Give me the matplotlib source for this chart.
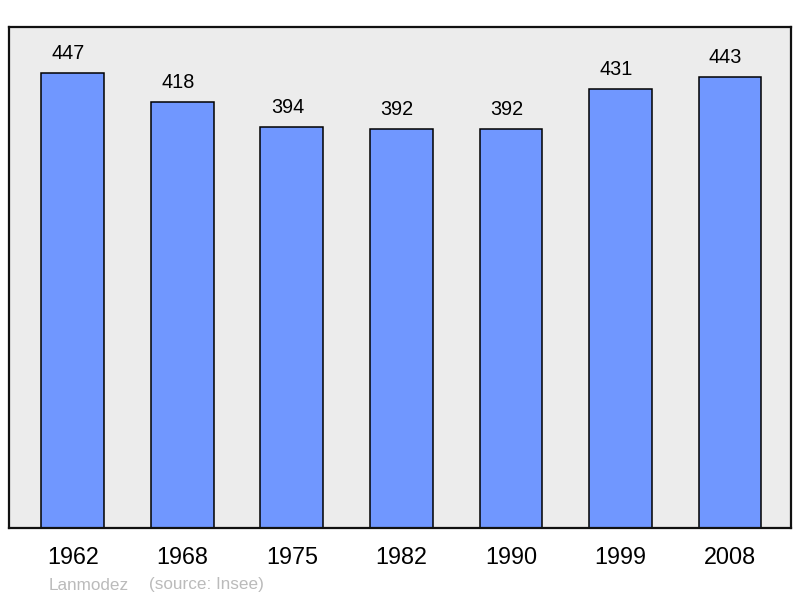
import matplotlib
matplotlib.use("Agg")
import matplotlib.pyplot as plt
from matplotlib.transforms import offset_copy

years = ["1962", "1968", "1975", "1982", "1990", "1999", "2008"]
population = [447, 418, 394, 392, 392, 431, 443]

plt.rcParams['font.family'] = ['Liberation Sans', 'DejaVu Sans']

fig = plt.figure(figsize=(8.0, 5.98), dpi=100)
ax = fig.add_axes([9/800, 1-528/598, 782/800, 501/598])
ax.set_facecolor('#ececec')
x = list(range(len(years)))
ax.bar(x, population, width=0.575, color='#7097ff', edgecolor='black', linewidth=1.1, zorder=2)
trans = offset_copy(ax.transData, fig=fig, x=-4.5, y=10, units='dots')
for xi, v in zip(x, population):
    ax.text(xi, v, str(v), ha='center', va='bottom', fontsize=14.3, color='black', transform=trans)
ax.set_xlim(-0.584, 6.557)
ax.set_ylim(0, 492)
ax.set_xticks(x)
ax.set_xticklabels(years, fontsize=16.8)
ax.tick_params(axis='x', length=0, pad=13)
ax.set_yticks([])
for s in ax.spines.values():
    s.set_linewidth(1.6)
    s.set_color('#111111')

fig.text(49/800, 1-585/598, "Lanmodez", fontsize=12.3, color='#bbbbbb', va='center', ha='left')
fig.text(149/800, 1-585/598, "(source: Insee)", fontsize=12.3, color='#bbbbbb', va='center', ha='left')

fig.savefig("out.png", dpi=100)
